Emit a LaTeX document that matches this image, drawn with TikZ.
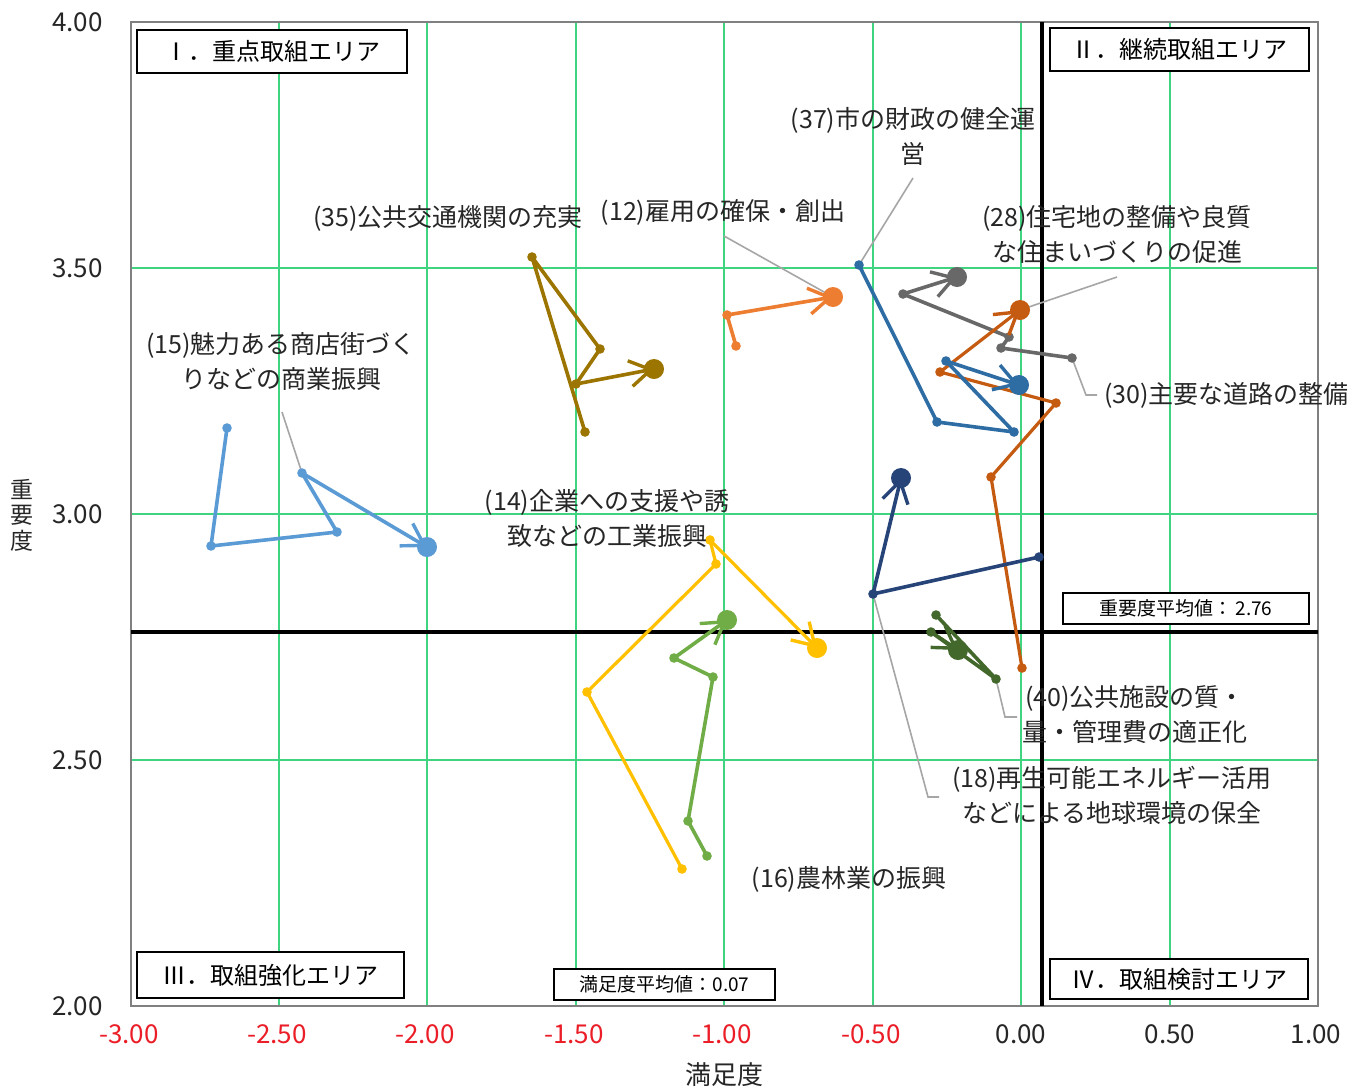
\documentclass[tikz,border=0pt]{standalone}
\usepackage{fontspec}
\setmainfont{Noto Sans CJK JP}
\usetikzlibrary{arrows.meta}
\definecolor{gridc}{RGB}{64,212,128}
\definecolor{frc}{RGB}{128,128,128}
\definecolor{leadc}{RGB}{166,166,166}
\definecolor{tickred}{RGB}{235,30,40}
\definecolor{cA}{RGB}{91,155,213}   % (15)
\definecolor{cB}{RGB}{156,117,0}    % (35)
\definecolor{cC}{RGB}{237,125,49}   % (12)
\definecolor{cD}{RGB}{46,108,164}   % (37)
\definecolor{cE}{RGB}{104,104,104}  % (30)
\definecolor{cF}{RGB}{197,90,17}    % (28)
\definecolor{cG}{RGB}{38,68,120}    % (18)
\definecolor{cH}{RGB}{67,104,43}    % (40)
\definecolor{cI}{RGB}{255,192,0}    % (14)
\definecolor{cJ}{RGB}{112,173,71}   % (16)
\begin{document}
\begin{tikzpicture}[x=1pt,y=-1pt,
  gridline/.style={draw=gridc,line width=1.6pt},
  meanline/.style={draw=black,line width=3.6pt},
  areabox/.style={draw=black,line width=2.6pt,fill=white,inner sep=0pt,
     font=\fontsize{24}{28}\selectfont},
  avgbox/.style={draw=black,line width=2.4pt,fill=white,inner sep=0pt,
     font=\fontsize{19}{22}\selectfont},
  lbl/.style={align=center,inner sep=0pt,font=\fontsize{25}{35}\selectfont,text=black!85},
  ytick/.style={anchor=east,inner sep=0pt,font=\fontsize{26}{28}\selectfont,text=black!85},
  xtick/.style={inner sep=0pt,font=\fontsize{26}{28}\selectfont,text=black!85},
  leader/.style={draw=leadc,line width=1.6pt},
  serline/.style={line width=3.6pt,line join=round,line cap=round},
  arr/.style={-{Straight Barb[length=21pt,width=26pt,line width=3.4pt]}},
]
\useasboundingbox (0,0) rectangle (1365,1090);
\fill[white] (0,0) rectangle (1365,1090);

% grid
\foreach \gx in {279,427,576,724,873,1021,1170}{\draw[gridline] (\gx,22) -- (\gx,1006);}
\foreach \gy in {268,514,760}{\draw[gridline] (131,\gy) -- (1318,\gy);}
% frame
\draw[draw=frc,line width=2.2pt] (131,22) rectangle (1318,1006);
% mean lines
\draw[meanline] (1042,22) -- (1042,1006);
\draw[meanline] (131,632) -- (1318,632);

% area boxes
\node[areabox,minimum width=270pt,minimum height=43pt] (b1) at (272,51.5) {Ⅰ．重点取組エリア};
\node[areabox,minimum width=259pt,minimum height=43pt] (b2) at (1179.5,49.5) {Ⅱ．継続取組エリア};
\node[areabox,minimum width=267pt,minimum height=46pt] (b3) at (270.5,975) {Ⅲ．取組強化エリア};
\node[areabox,minimum width=258pt,minimum height=40pt] (b4) at (1179,979) {Ⅳ．取組検討エリア};
\node[avgbox,minimum width=221pt,minimum height=31pt] (m1) at (664.5,984.5) {満足度平均値：0.07};
\node[avgbox,minimum width=246pt,minimum height=31pt] (m2) at (1186,608.5) {重要度平均値：\,2.76};

% tick labels
\foreach \v/\yy in {4.00/22,3.50/268,3.00/514,2.50/760,2.00/1006}{\node[ytick] at (103,\yy) {\v};}
\foreach \v/\xx in {-3.00/129,-2.50/277,-2.00/425,-1.50/574,-1.00/722,-0.50/871}{\node[xtick,text=tickred] at (\xx,1034) {\v};}
\foreach \v/\xx in {0.00/1021,0.50/1170,1.00/1316}{\node[xtick] at (\xx,1034) {\v};}
\node[xtick] (xt) at (724,1075) {満足度};
\node[xtick,align=center,font=\fontsize{23}{25.5}\selectfont] (yt) at (22,515) {重\\要\\度};

% series coordinates
\coordinate (a1) at (227,428); \coordinate (a2) at (211,546); \coordinate (a3) at (337,532); \coordinate (a4) at (302,473); \coordinate (a5) at (427,547);
\coordinate (b1p) at (585,432); \coordinate (b2p) at (532,257); \coordinate (b3p) at (600,349); \coordinate (b4p) at (576,384); \coordinate (b5p) at (654,369);
\coordinate (c1) at (736,346); \coordinate (c2) at (727,315); \coordinate (c3) at (833,297);
\coordinate (d1) at (859,265); \coordinate (d2) at (937,422); \coordinate (d3) at (1014,432); \coordinate (d4) at (946,361); \coordinate (d5) at (1019,385);
\coordinate (e1) at (1072,358); \coordinate (e2) at (1001,348); \coordinate (e3) at (1009,337); \coordinate (e4) at (903,294); \coordinate (e5) at (957,277);
\coordinate (f1) at (1022,668); \coordinate (f2) at (991,477); \coordinate (f3) at (1056,403); \coordinate (f4) at (940,372); \coordinate (f5) at (1020,310);
\coordinate (g1) at (1039,557); \coordinate (g2) at (873,594); \coordinate (g3) at (901,478);
\coordinate (h1) at (936,615); \coordinate (h2) at (996,679); \coordinate (h3) at (931,632); \coordinate (h4) at (958,650);
\coordinate (i1) at (682,869); \coordinate (i2) at (587,692); \coordinate (i3) at (716,564); \coordinate (i4) at (710,540); \coordinate (i5) at (817,648);
\coordinate (j1) at (707,856); \coordinate (j2) at (688,821); \coordinate (j3) at (713,677); \coordinate (j4) at (674,658); \coordinate (j5) at (727,620);

% leader line ends
\coordinate (la) at (282,412);
\coordinate (lc) at (724,236);
\coordinate (ld) at (913,178);
\coordinate (lf) at (1117,277);
\coordinate (le1) at (1086,395); \coordinate (le2) at (1097,395);
\coordinate (lg1) at (928,797); \coordinate (lg2) at (939,797);
\coordinate (lh1) at (1005,717); \coordinate (lh2) at (1017,717);

% leaders
\draw[leader] (la) -- (a4);
\draw[leader] (lc) -- (c3);
\draw[leader] (ld) -- (d1);
\draw[leader] (lf) -- (f5);
\draw[leader] (e1) -- (le1) -- (le2);
\draw[leader] (g2) -- (lg1) -- (lg2);
\draw[leader] (h2) -- (lh1) -- (lh2);

% series
\newcommand\smalldots[2]{\foreach \p in {#2}{\fill[#1] (\p) circle[radius=4.8pt];}}
\newcommand\bigdot[2]{\fill[#1] (#2) circle[radius=10pt];}

\draw[serline,cA] (a1) -- (a2) -- (a3) -- (a4); \draw[serline,cA,arr] (a4) -- (a5);
\smalldots{cA}{a1,a2,a3,a4} \bigdot{cA}{a5}

\draw[serline,cB] (b1p) -- (b2p) -- (b3p) -- (b4p); \draw[serline,cB,arr] (b4p) -- (b5p);
\smalldots{cB}{b1p,b2p,b3p,b4p} \bigdot{cB}{b5p}

\draw[serline,cC] (c1) -- (c2); \draw[serline,cC,arr] (c2) -- (c3);
\smalldots{cC}{c1,c2} \bigdot{cC}{c3}

\draw[serline,cE] (e1) -- (e2) -- (e3) -- (e4); \draw[serline,cE,arr] (e4) -- (e5);
\smalldots{cE}{e1,e2,e3,e4} \bigdot{cE}{e5}

\draw[serline,cF,line width=3.2pt] (f1) -- (f2) -- (f3) -- (f4); \draw[serline,cF,line width=3.2pt,arr] (f4) -- (f5);
\smalldots{cF}{f1,f2,f3,f4} \bigdot{cF}{f5}

\draw[serline,cD] (d1) -- (d2) -- (d3) -- (d4); \draw[serline,cD,arr] (d4) -- (d5);
\smalldots{cD}{d1,d2,d3,d4} \bigdot{cD}{d5}

\draw[serline,cG] (g1) -- (g2); \draw[serline,cG,arr] (g2) -- (g3);
\smalldots{cG}{g1,g2} \bigdot{cG}{g3}

\draw[serline,cH] (h1) -- (h2) -- (h3); \draw[serline,cH,arr] (h3) -- (h4);
\smalldots{cH}{h1,h2,h3} \bigdot{cH}{h4}

\draw[serline,cI,line width=3.2pt] (i1) -- (i2) -- (i3) -- (i4); \draw[serline,cI,line width=3.2pt,arr] (i4) -- (i5);
\smalldots{cI}{i1,i2,i3,i4} \bigdot{cI}{i5}

\draw[serline,cJ] (j1) -- (j2) -- (j3) -- (j4); \draw[serline,cJ,arr] (j4) -- (j5);
\smalldots{cJ}{j1,j2,j3,j4} \bigdot{cJ}{j5}

% labels
\node[lbl] (t37) at (913,136) {(37)市の財政の健全運\\営};
\node[lbl] (t35) at (448,218) {(35)公共交通機関の充実};
\node[lbl] (t12) at (723,212) {(12)雇用の確保・創出};
\node[lbl] (t28) at (1117,234) {(28)住宅地の整備や良質\\な住まいづくりの促進};
\node[lbl] (t15) at (281,361) {(15)魅力ある商店街づく\\りなどの商業振興};
\node[lbl,anchor=west] (t30) at (1104,395) {(30)主要な道路の整備};
\node[lbl] (t14) at (607,518) {(14)企業への支援や誘\\致などの工業振興};
\node[lbl] (t40) at (1135,715) {(40)公共施設の質・\\量・管理費の適正化};
\node[lbl] (t18) at (1112,795) {(18)再生可能エネルギー活用\\などによる地球環境の保全};
\node[lbl] (t16) at (849,879) {(16)農林業の振興};
\end{tikzpicture}
\end{document}
